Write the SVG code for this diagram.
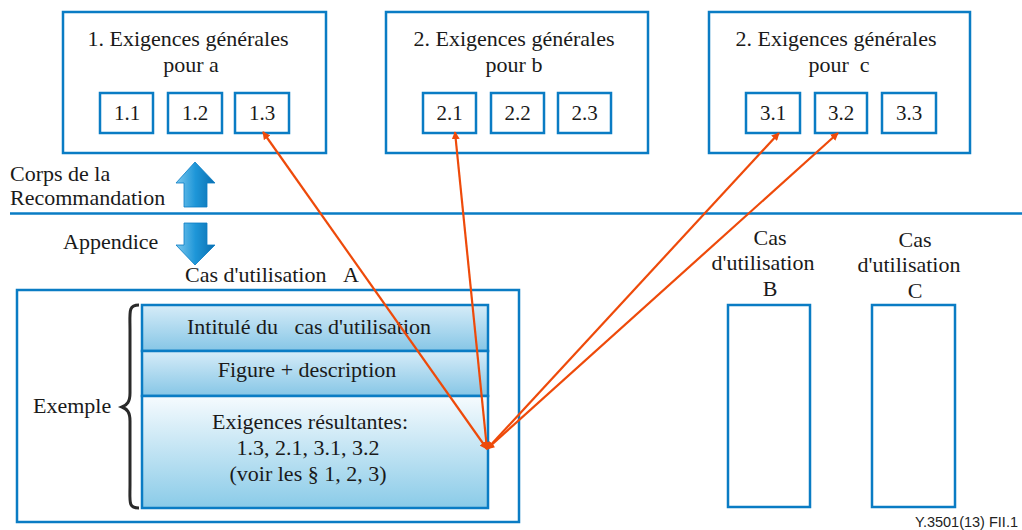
<svg xmlns="http://www.w3.org/2000/svg" width="1022" height="530" viewBox="0 0 1022 530">
<style>
.box{fill:#fff;stroke:#0a7cc4;stroke-width:2.5}
.conn{stroke:#ee4a0a;stroke-width:2.2;fill:none;marker-end:url(#ah);marker-start:url(#ah)}
</style>
<defs>
<marker id="ah" viewBox="0 0 10 10" refX="9" refY="5" markerWidth="8" markerHeight="8" orient="auto-start-reverse" markerUnits="userSpaceOnUse">
<path d="M0,0 L10,5 L0,10 z" fill="#ee4a0a"/>
</marker>
<linearGradient id="bluearrow" x1="0" y1="0" x2="1" y2="0">
<stop offset="0" stop-color="#7cc8ee"/>
<stop offset="0.5" stop-color="#1e96d8"/>
<stop offset="1" stop-color="#0a6fb0"/>
</linearGradient>
<linearGradient id="row" x1="0" y1="0" x2="0" y2="1">
<stop offset="0" stop-color="#d6ecf8"/>
<stop offset="1" stop-color="#86c6e6"/>
</linearGradient>
<linearGradient id="row3" x1="0" y1="0" x2="0" y2="1">
<stop offset="0" stop-color="#f6fbfe"/>
<stop offset="1" stop-color="#8acbe8"/>
</linearGradient>
</defs>

<g id="group-a">
<rect class="box" x="63" y="12" width="263" height="141"/>
<rect class="box" x="100" y="93" width="53" height="40"/>
<rect class="box" x="168" y="93" width="54" height="40"/>
<rect class="box" x="235" y="93" width="54" height="40"/>
<g font-family="Liberation Serif, serif" font-size="22" fill="#1a1a1a" text-anchor="middle">
<text x="188" y="46">1. Exigences générales</text>
<text x="191" y="72">pour a</text>
<text x="127" y="120" font-size="21">1.1</text>
<text x="195" y="120" font-size="21">1.2</text>
<text x="262" y="120" font-size="21">1.3</text>
</g>
</g>

<g id="group-b">
<rect class="box" x="386" y="12" width="262" height="141"/>
<rect class="box" x="423" y="93" width="53" height="40"/>
<rect class="box" x="491" y="93" width="53" height="40"/>
<rect class="box" x="558" y="93" width="53" height="40"/>
<g font-family="Liberation Serif, serif" font-size="22" fill="#1a1a1a" text-anchor="middle">
<text x="514" y="46">2. Exigences générales</text>
<text x="514" y="72">pour b</text>
<text x="449.5" y="120" font-size="21">2.1</text>
<text x="517.5" y="120" font-size="21">2.2</text>
<text x="584.5" y="120" font-size="21">2.3</text>
</g>
</g>

<g id="group-c">
<rect class="box" x="709" y="12" width="261" height="141"/>
<rect class="box" x="746" y="93" width="54" height="40"/>
<rect class="box" x="815" y="93" width="52" height="40"/>
<rect class="box" x="882" y="93" width="54" height="40"/>
<g font-family="Liberation Serif, serif" font-size="22" fill="#1a1a1a" text-anchor="middle">
<text x="836" y="46">2. Exigences générales</text>
<text x="839" y="72" xml:space="preserve">pour  c</text>
<text x="773" y="120" font-size="21">3.1</text>
<text x="841" y="120" font-size="21">3.2</text>
<text x="909" y="120" font-size="21">3.3</text>
</g>
</g>

<g id="divider">
<line x1="10" y1="213.5" x2="1022" y2="213.5" stroke="#0a7cc4" stroke-width="2.5"/>
<path d="M195,162 L215,183 L207,183 L207,207 L184,207 L184,183 L176,183 Z" fill="url(#bluearrow)" stroke="#0a7cc4" stroke-width="0.8"/>
<path d="M195,265 L215,245 L207,245 L207,223 L184,223 L184,245 L176,245 Z" fill="url(#bluearrow)" stroke="#0a7cc4" stroke-width="0.8"/>
<g font-family="Liberation Serif, serif" font-size="22" fill="#1a1a1a">
<text x="10" y="181">Corps de la</text>
<text x="10" y="205">Recommandation</text>
<text x="63" y="249">Appendice</text>
</g>
</g>

<g id="usecase-a">
<rect class="box" x="17" y="290" width="502" height="232"/>
<rect x="142" y="305" width="346" height="46" fill="url(#row)" stroke="#0a7cc4" stroke-width="2.5"/>
<rect x="142" y="351" width="346" height="45" fill="url(#row)" stroke="#0a7cc4" stroke-width="2.5"/>
<rect x="142" y="396" width="346" height="112" fill="url(#row3)" stroke="#0a7cc4" stroke-width="2.5"/>
<path d="M139,305 C128,305 130,312 130,330 L130,393 C130,402 127,405 122,407 C127,409 130,412 130,421 L130,485 C130,502 128,508 139,508" fill="none" stroke="#2a2a2a" stroke-width="3"/>
<g font-family="Liberation Serif, serif" font-size="22" fill="#1a1a1a">
<text x="185" y="282" xml:space="preserve">Cas d'utilisation <tspan x="343">A</tspan></text>
<text x="33" y="413">Exemple</text>
<g text-anchor="middle">
<text x="309" y="334" xml:space="preserve">Intitulé du   cas d'utilisation</text>
<text x="307" y="377">Figure + description</text>
<text x="310" y="429">Exigences résultantes:</text>
<text x="308" y="455">1.3, 2.1, 3.1, 3.2</text>
<text x="308" y="481">(voir les § 1, 2, 3)</text>
</g>
</g>
</g>

<g id="usecase-b">
<rect class="box" x="728" y="305" width="82" height="202"/>
<g font-family="Liberation Serif, serif" font-size="22" fill="#1a1a1a" text-anchor="middle">
<text x="770" y="245">Cas</text>
<text x="763" y="270">d'utilisation</text>
<text x="770" y="296">B</text>
</g>
</g>

<g id="usecase-c">
<rect class="box" x="872" y="305" width="83" height="202"/>
<g font-family="Liberation Serif, serif" font-size="22" fill="#1a1a1a" text-anchor="middle">
<text x="915" y="247">Cas</text>
<text x="909" y="272">d'utilisation</text>
<text x="915" y="298">C</text>
</g>
</g>

<g id="connectors">
<line class="conn" x1="487" y1="449" x2="263" y2="132"/>
<line class="conn" x1="487" y1="449" x2="455" y2="132"/>
<line class="conn" x1="487" y1="449" x2="779" y2="133"/>
<line class="conn" x1="487" y1="449" x2="838" y2="133"/>
</g>

<text x="1018" y="527" text-anchor="end" font-family="Liberation Sans, Arial, sans-serif" font-size="14.5" fill="#222">Y.3501(13)  FII.1</text>
</svg>
